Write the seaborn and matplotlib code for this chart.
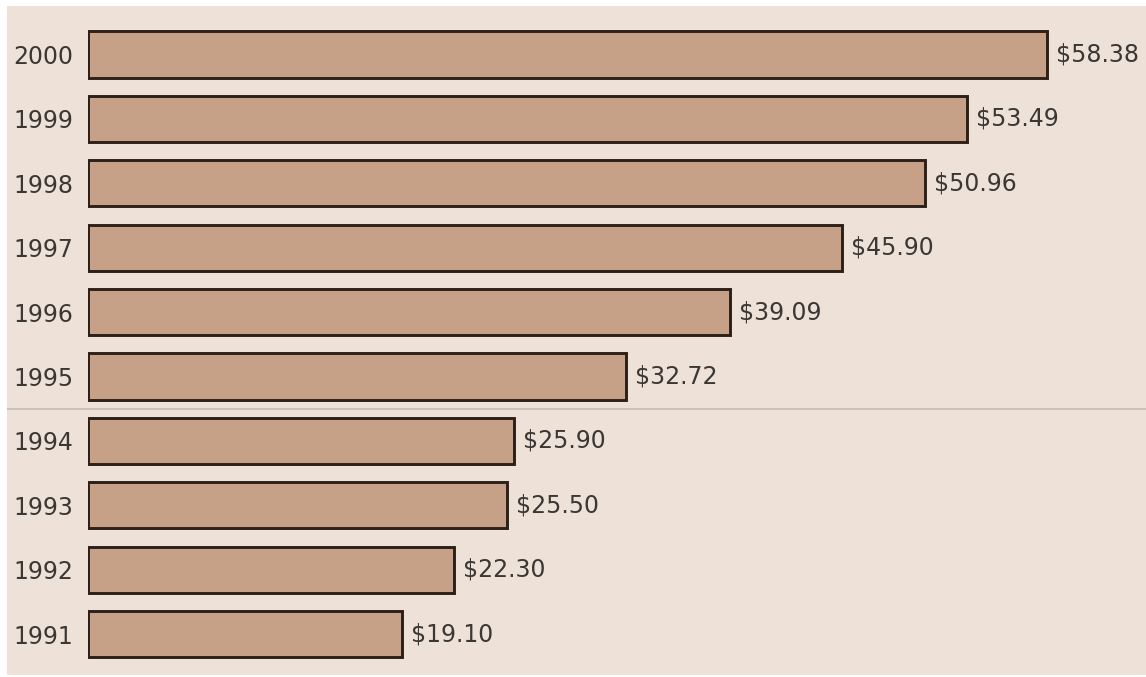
import matplotlib
matplotlib.use("Agg")
import matplotlib.pyplot as plt
from matplotlib.patches import Rectangle
import pandas as pd
import seaborn as sns

# Average price per year, newest first
years = ["2000", "1999", "1998", "1997", "1996", "1995", "1994", "1993", "1992", "1991"]
prices = [58.38, 53.49, 50.96, 45.90, 39.09, 32.72, 25.90, 25.50, 22.30, 19.10]

df = pd.DataFrame({"year": years, "price": prices})

BG = "#EEE2D8"
BAR = "#C6A187"
EDGE = "#2B1F18"
TEXT = "#3A3735"

sns.set_theme(style="white")
plt.rcParams["font.family"] = ["DejaVu Sans"]

W, H = 1146, 677
fig = plt.figure(figsize=(W / 100, H / 100), dpi=100, facecolor=BG)
ax = fig.add_axes([88 / W, 2 / H, (W - 88) / W, (675 - 6) / H])
ax.set_facecolor(BG)

sns.barplot(data=df, x="price", y="year", order=years, orient="h",
            color=BAR, saturation=1, edgecolor=EDGE, linewidth=2.1,
            width=0.72, ax=ax)

ax.set_xlim(0, (W - 88) / 16.43)
ax.set_ylim(9.635, -0.753)

ax.bar_label(ax.containers[0], labels=[f"${v:.2f}" for v in prices],
             padding=6.5, fontsize=17, color=TEXT)

ax.set_xlabel("")
ax.set_ylabel("")
ax.set_xticks([])
ax.tick_params(axis="y", length=0, pad=10.5, labelsize=17, labelcolor=TEXT)
for s in ax.spines.values():
    s.set_visible(False)

# Divider between the early and late nineties
ax.axhline(5.5, xmin=(7 - 88) / (W - 88), xmax=1, color="#C9C0B8",
           linewidth=1.4, clip_on=False, zorder=0)

# Thin white margin around the panel
fig.patches.append(Rectangle((0, 0), 7 / W, 1, transform=fig.transFigure,
                             facecolor="white", edgecolor="none", zorder=5))
fig.patches.append(Rectangle((0, (H - 6) / H), 1, 6 / H, transform=fig.transFigure,
                             facecolor="white", edgecolor="none", zorder=5))
fig.patches.append(Rectangle((0, 0), 1, 2 / H, transform=fig.transFigure,
                             facecolor="white", edgecolor="none", zorder=5))

fig.savefig("out.png", dpi=100, facecolor=fig.get_facecolor())
